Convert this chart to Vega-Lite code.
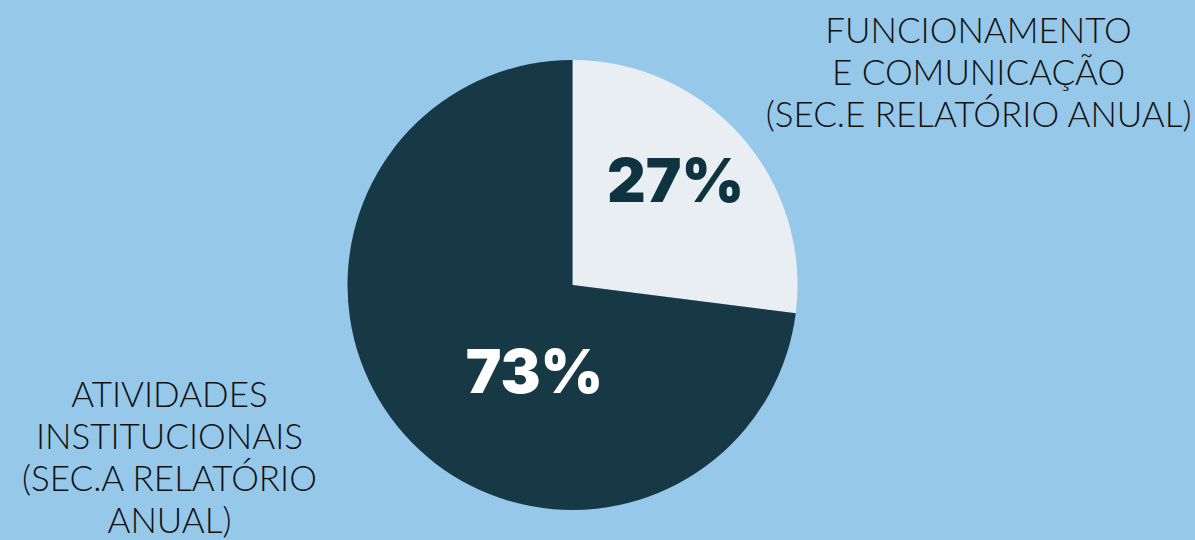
{
  "$schema": "https://vega.github.io/schema/vega-lite/v6.json",
  "width": 1145,
  "height": 510,
  "autosize": {"type": "none"},
  "padding": {"left": 0, "right": 50, "top": 30, "bottom": 0},
  "background": "#96C8EA",
  "config": {"view": {"stroke": null}},
  "data": {
    "values": [
      {"cat": "func", "ord": 1, "value": 27, "pct": "27%", "label": "FUNCIONAMENTO\nE COMUNICAÇÃO\n(SEC.E RELATÓRIO ANUAL)"},
      {"cat": "ativ", "ord": 2, "value": 73, "pct": "73%", "label": "ATIVIDADES\nINSTITUCIONAIS\n(SEC.A RELATÓRIO\nANUAL)"}
    ]
  },
  "encoding": {
    "theta": {"field": "value", "type": "quantitative", "stack": true},
    "order": {"field": "ord", "type": "quantitative"}
  },
  "layer": [
    {
      "mark": {"type": "arc", "outerRadius": 225},
      "encoding": {
        "color": {"field": "cat", "type": "nominal", "scale": {"domain": ["func", "ativ"], "range": ["#E9EEF2", "#173845"]}, "legend": null}
      }
    },
    {
      "mark": {
        "type": "text", "radius": 120, "font": "Inter", "fontWeight": 900, "fontSize": 60,
        "align": "center", "baseline": "middle",
        "dx": {"expr": "datum.cat === 'func' ? 13 : 52"},
        "dy": {"expr": "datum.cat === 'func' ? -22 : 11"},
        "fill": {"expr": "datum.cat === 'func' ? '#0E3440' : '#FFFFFF'"}
      },
      "encoding": {"text": {"field": "pct", "type": "nominal"}}
    },
    {
      "mark": {
        "type": "text", "radius": 440, "font": "Lato", "fontWeight": 300, "fontSize": 35,
        "lineBreak": "\n", "lineHeight": 42,
        "align": "center", "baseline": "middle", "fill": "#111111",
        "dx": {"expr": "datum.cat === 'func' ? 76 : -73"},
        "dy": {"expr": "datum.cat === 'func' ? 38 : -180"}
      },
      "encoding": {"text": {"field": "label", "type": "nominal"}}
    }
  ]
}
